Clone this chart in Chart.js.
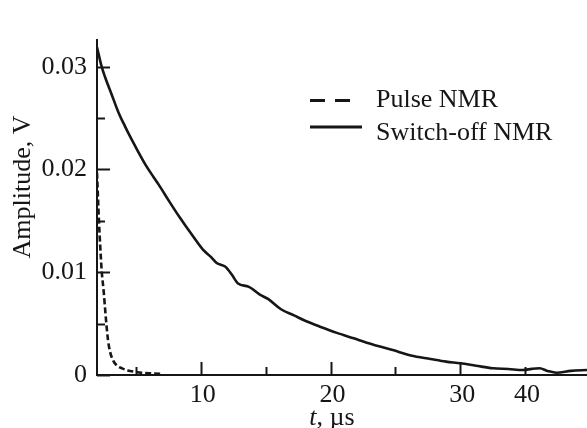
<!DOCTYPE html>
<html><head><meta charset="utf-8">
<script src="https://cdn.jsdelivr.net/npm/chart.js@4.4.1/dist/chart.umd.min.js"></script>
<style>html,body{margin:0;padding:0;background:#fff}#wrap{width:587px;height:428px}</style>
</head><body><div id="wrap"><canvas id="c" width="587" height="428"></canvas></div>
<script>
const switchT=[1.99,2.35,2.61,3.12,3.63,4.15,4.67,5.18,5.69,6.33,6.76,7.56,8.39,9.41,10.16,10.77,11.22,11.87,12.37,12.87,13.67,14.58,15.18,16.18,17.18,18.18,19.19,20.49,21.79,23.2,24.8,26.2,27.71,28.91,30.01,31.22,32.52,33.72,34.83,35.53,36.13,36.73,37.43,38.53,39.78];
const switchV=[0.0319,0.0300,0.0290,0.0273,0.0256,0.0242,0.0229,0.0217,0.02055,0.0193,0.0185,0.0169,0.0153,0.01347,0.0122,0.0115,0.0109,0.01055,0.0098,0.0089,0.0086,0.0078,0.0074,0.0064,0.0058,0.0052,0.0047,0.0041,0.00357,0.0030,0.00243,0.0019,0.00156,0.0013,0.00114,0.0009,0.00065,0.00058,0.00049,0.0006,0.00065,0.0004,0.00022,0.0004,0.00049];
const pulseT=[1.99,2.14,2.24,2.36,2.5,2.61,2.71,2.84,2.99,3.24,3.54,3.92,4.35,4.95,5.55,6.25,7.05];
const pulseV=[0.0197,0.0150,0.0125,0.0100,0.0082,0.0065,0.0050,0.0034,0.0023,0.0014,0.0009,0.00065,0.00045,0.0003,0.0002,0.00015,0.0001];
const xTicks=[5,10,15,20,25,30,35];
const xTickLabels=['','10','','20','','30','40'];
const xMajor=[10,20,30];
const yTicks=[0,0.005,0.01,0.015,0.02,0.025,0.03];
const yTickLabels=['0','','0.01','','0.02','','0.03'];
const yMajor=[0,0.01,0.02,0.03];
const seriesNames=['Pulse NMR','Switch-off NMR'];
const xTitleItalic='t';
const xTitleRest=', µs';
const yTitle='Amplitude, V';

const INK='#161616';
const FONT='"Liberation Serif", "Times New Roman", serif';
const FS=26;

const overlay={
  id:'overlay',
  afterDraw(chart){
    const ctx=chart.ctx, xs=chart.scales.x, ys=chart.scales.y;
    ctx.save();
    ctx.strokeStyle=INK; ctx.lineWidth=2;
    xTicks.forEach(v=>{
      const px=Math.round(xs.getPixelForValue(v))+0.5;
      const len=xMajor.includes(v)?13:8;
      ctx.beginPath(); ctx.moveTo(px,ys.bottom); ctx.lineTo(px,ys.bottom-len); ctx.stroke();
    });
    yTicks.forEach(v=>{
      const py=Math.round(ys.getPixelForValue(v))+0.5;
      const len=yMajor.includes(v)?13:8;
      ctx.beginPath(); ctx.moveTo(xs.left,py); ctx.lineTo(xs.left+len,py); ctx.stroke();
    });
    const ds=chart.data.datasets;
    const rows=[{y:100.5,ty:100,x1:310,x2:350},{y:127,ty:133,x1:310,x2:362}];
    ds.forEach((d,i)=>{
      const r=rows[i];
      ctx.lineWidth=2.8; ctx.strokeStyle=d.borderColor;
      ctx.setLineDash(i===0?[15,10]:[]);
      ctx.beginPath(); ctx.moveTo(r.x1,r.y); ctx.lineTo(r.x2,r.y); ctx.stroke();
      ctx.setLineDash([]);
      ctx.fillStyle=INK; ctx.font=FS+'px '+FONT; ctx.textBaseline='middle'; ctx.textAlign='left';
      ctx.fillText(d.label,376,r.ty);
    });
    ctx.textBaseline='alphabetic';
    ctx.font='italic '+FS+'px '+FONT;
    const w1=ctx.measureText(xTitleItalic).width;
    ctx.font=FS+'px '+FONT;
    const w2=ctx.measureText(xTitleRest).width;
    const sx=332-(w1+w2)/2;
    ctx.font='italic '+FS+'px '+FONT; ctx.fillText(xTitleItalic,sx,425);
    ctx.font=FS+'px '+FONT; ctx.fillText(xTitleRest,sx+w1,425);
    ctx.translate(23,187); ctx.rotate(-Math.PI/2);
    ctx.textAlign='center'; ctx.textBaseline='middle';
    ctx.fillText(yTitle,0,0);
    ctx.restore();
  }
};

new Chart(document.getElementById('c'),{
  type:'line',
  data:{datasets:[
    {label:seriesNames[0],data:pulseT.map((t,i)=>({x:t,y:pulseV[i]})),borderColor:INK,borderWidth:2.6,borderDash:[6,3],pointRadius:0,cubicInterpolationMode:'monotone',fill:false},
    {label:seriesNames[1],data:switchT.map((t,i)=>({x:t,y:switchV[i]})),borderColor:INK,borderWidth:2.6,pointRadius:0,cubicInterpolationMode:'monotone',fill:false}
  ]},
  options:{
    responsive:false,animation:false,
    layout:{padding:{top:40,right:0,left:0,bottom:0}},
    plugins:{legend:{display:false},tooltip:{enabled:false}},
    scales:{
      x:{type:'linear',min:1.99,max:39.78,
        afterBuildTicks(s){s.ticks=xTicks.map(v=>({value:v}));},
        afterFit(s){s.height=53;},
        grid:{display:false,drawTicks:false},
        border:{display:true,color:INK,width:2},
        ticks:{autoSkip:false,maxRotation:0,padding:5,labelOffset:2,color:INK,font:{family:FONT,size:FS},
          callback:(v,i)=>xTickLabels[i]}
      },
      y:{type:'linear',min:0,max:0.0326,
        afterBuildTicks(s){s.ticks=yTicks.map(v=>({value:v}));},
        afterFit(s){s.width=97;},
        grid:{display:false,drawTicks:false},
        border:{display:true,color:INK,width:2},
        ticks:{autoSkip:false,padding:10,color:INK,font:{family:FONT,size:FS},
          callback:(v,i)=>yTickLabels[i]}
      }
    }
  },
  plugins:[overlay]
});
</script></body></html>
